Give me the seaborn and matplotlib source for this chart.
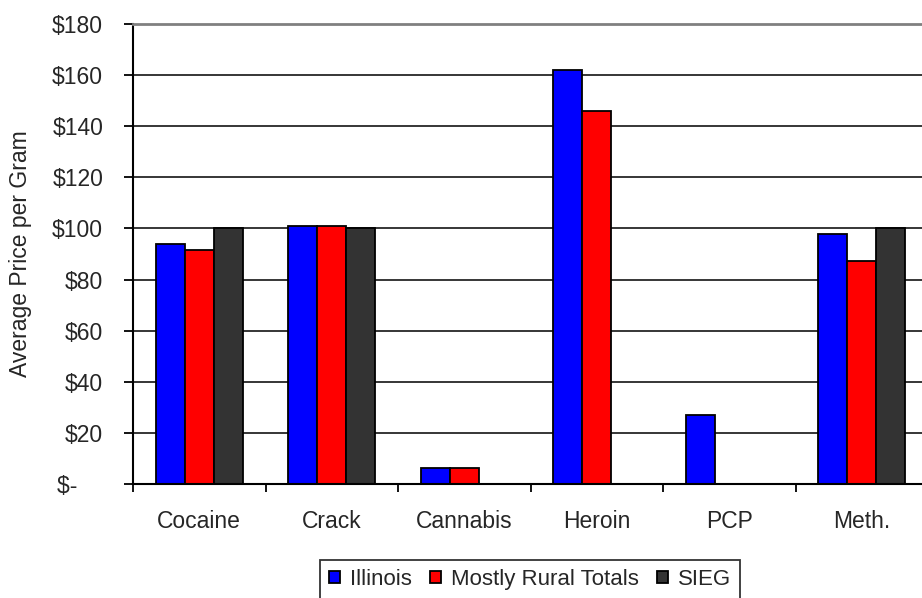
import numpy as np
import pandas as pd
import matplotlib
matplotlib.use("Agg")
import matplotlib.pyplot as plt
import seaborn as sns
from matplotlib.ticker import FixedLocator, FuncFormatter

# ---------------------------------------------------------
# Data
# ---------------------------------------------------------
drugs = ["Cocaine", "Crack", "Cannabis", "Heroin", "PCP", "Meth."]
sources = ["Illinois", "Mostly Rural Totals", "SIEG"]
illinois = [94.0, 100.8, 6.3, 162.0, 27.0, 98.0]
rural = [91.4, 100.8, 6.3, 146.0, np.nan, 87.4]
sieg = [100.0, 100.0, np.nan, np.nan, np.nan, 100.0]
colors = ["#0000ff", "#ff0000", "#333333"]
y_ticks = [0, 20, 40, 60, 80, 100, 120, 140, 160, 180]

df = pd.DataFrame({
    "drug": drugs * 3,
    "price": illinois + rural + sieg,
    "source": [s for s in sources for _ in drugs],
})

# ---------------------------------------------------------
# Plot
# ---------------------------------------------------------
sns.set_style("white")
plt.rcParams["font.family"] = ["Liberation Sans", "DejaVu Sans"]
FS = 16.5

fig = plt.figure(figsize=(9.22, 5.98), dpi=100)
ax = fig.add_axes([133 / 922, 114 / 598, 795 / 922, 460 / 598])

sns.barplot(data=df, x="drug", y="price", hue="source", hue_order=sources,
            order=drugs, palette=colors, saturation=1, width=0.66,
            edgecolor="black", linewidth=1.3, errorbar=None, ax=ax)

ax.set_ylim(0, 180)
ax.set_xlim(-0.5, len(drugs) - 0.5)
ax.yaxis.set_major_locator(FixedLocator(y_ticks))
# Excel accounting style: zero shows as "$-"
ax.yaxis.set_major_formatter(FuncFormatter(lambda v, p: "$-    " if v == 0 else f"${v:.0f}"))
ax.yaxis.grid(True, color="black", linewidth=1.1)
ax.set_axisbelow(True)

# category ticks between groups, Excel style
ax.xaxis.set_minor_locator(FixedLocator(np.arange(-0.5, len(drugs), 1.0)))
ax.tick_params(axis="x", which="major", length=0, pad=18.5, labelsize=FS)
ax.tick_params(axis="x", which="minor", length=6, width=1.3, color="black", direction="out")
ax.tick_params(axis="y", length=6.5, width=1.3, color="black", direction="out", pad=15, labelsize=FS)
ax.tick_params(bottom=True, left=True, which="both")

for side in ["left", "bottom"]:
    ax.spines[side].set_color("black")
    ax.spines[side].set_linewidth(1.5)
ax.spines["top"].set_color("#808080")
ax.spines["top"].set_linewidth(2)
ax.spines["right"].set_visible(False)

ax.set_xlabel("")
ax.set_ylabel("Average Price per Gram", fontsize=FS)
ax.yaxis.set_label_coords(-101 / 795, 0.5)

handles, labels = ax.get_legend_handles_labels()
leg = ax.legend(handles, labels, loc="upper center", ncol=3,
                bbox_to_anchor=(530 / 922, 1 - 560 / 598), bbox_transform=fig.transFigure,
                frameon=True, fancybox=False, edgecolor="black", fontsize=16,
                handlelength=0.5, handleheight=0.5, handletextpad=0.45,
                columnspacing=0.8, borderpad=0.4, borderaxespad=0)
leg.get_frame().set_linewidth(1.3)

fig.savefig("out.png", dpi=100)
